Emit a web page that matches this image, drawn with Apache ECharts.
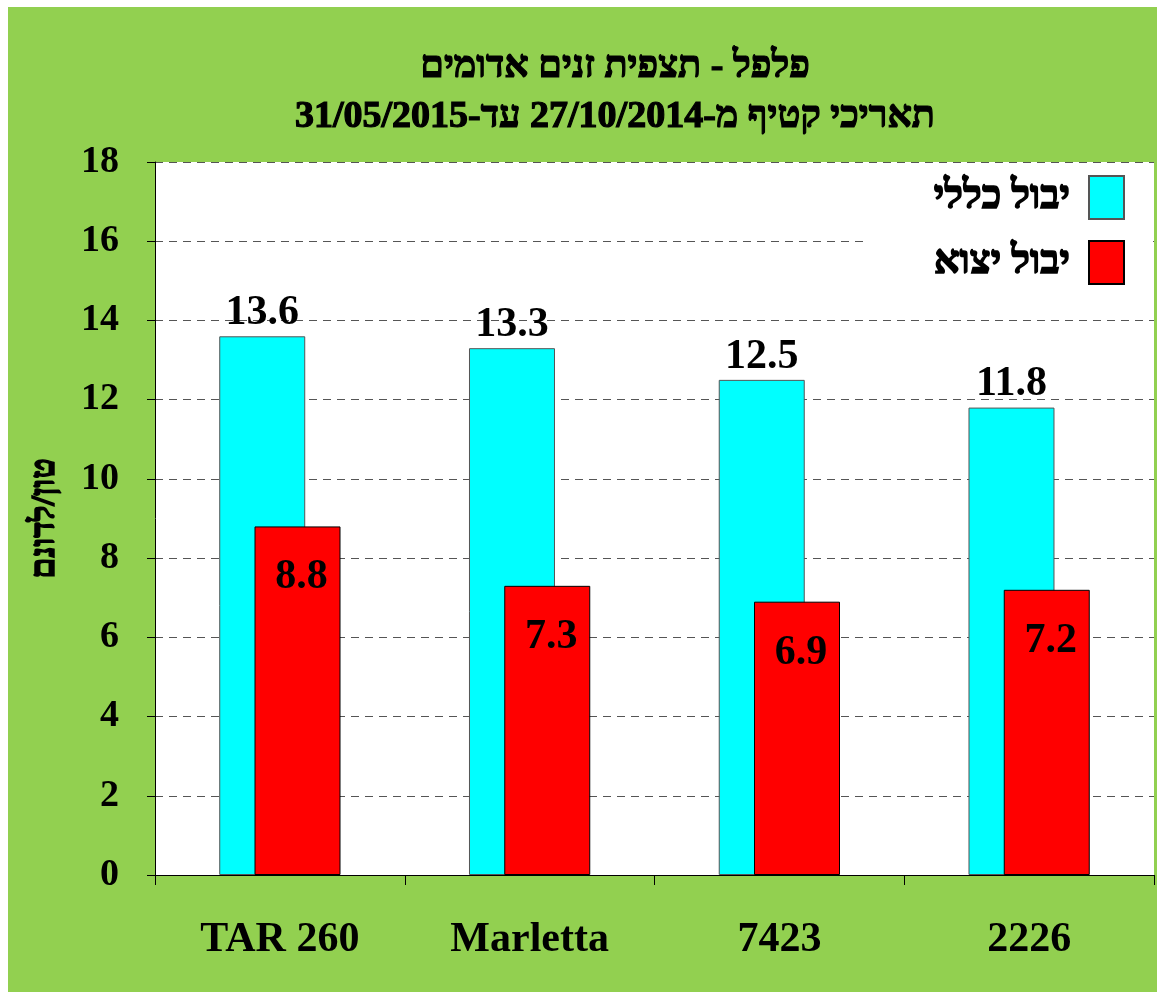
<!DOCTYPE html>
<html>
<head>
<meta charset="utf-8">
<script src="https://cdn.jsdelivr.net/npm/echarts@6/dist/echarts.min.js"></script>
<style>
  html, body { margin: 0; padding: 0; background: #fff; }
  #main { position: absolute; left: 8px; top: 7px; width: 1149px; height: 985px; }
</style>
</head>
<body>
<div id="main"></div>
<script>
var categories = ['TAR 260', 'Marletta', '7423', '2226'];
var totalYield = [13.6, 13.3, 12.5, 11.8];
var exportYield = [8.8, 7.3, 6.9, 7.2];
var seriesNames = ['יבול כללי', 'יבול יצוא'];
var titleLines = ['פלפל - תצפית זנים אדומים', 'תאריכי קטיף מ-27/10/2014 עד-31/05/2015'];
var yName = 'טון/לדונם';

var font = 'Liberation Serif, Times New Roman, serif';
var chart = echarts.init(document.getElementById('main'));

// hebrew glyphs have no bold face here, so thicken them with a stroke
var option = {
  backgroundColor: '#92D050',
  animation: false,
  title: {
    text: titleLines.join('\n'),
    left: 602,
    textAlign: 'center',
    top: 30,
    textStyle: {
      fontFamily: font,
      fontWeight: 'bold',
      fontSize: 38,
      lineHeight: 50,
      color: '#000',
      textBorderColor: '#000',
      textBorderWidth: 1.2
    }
  },
  legend: {
    orient: 'vertical',
    right: 4,
    top: 160,
    align: 'right',
    icon: 'rect',
    itemWidth: 35,
    itemHeight: 43,
    itemGap: 20,
    backgroundColor: '#fff',
    padding: [8, 28, 8, 70],
    textStyle: {
      fontFamily: font,
      fontWeight: 'bold',
      fontSize: 40,
      color: '#000',
      textBorderColor: '#000',
      textBorderWidth: 1.5,
      padding: [0, 14, 0, 0]
    },
    data: seriesNames
  },
  grid: {
    left: 147,
    right: 3,
    top: 155,
    bottom: 117,
    show: true,
    backgroundColor: '#fff',
    borderWidth: 0
  },
  xAxis: {
    type: 'category',
    data: categories,
    axisLine: { lineStyle: { color: '#000', width: 1 } },
    axisTick: { show: true, length: 10, lineStyle: { color: '#000' } },
    axisLabel: {
      margin: 44,
      fontFamily: font,
      fontWeight: 'bold',
      fontSize: 42,
      color: '#000'
    }
  },
  yAxis: {
    type: 'value',
    min: 0,
    max: 18,
    interval: 2,
    name: yName,
    nameLocation: 'middle',
    nameRotate: 90,
    nameGap: 93,
    nameTextStyle: {
      fontFamily: font,
      fontWeight: 'bold',
      fontSize: 34,
      color: '#000',
      textBorderColor: '#000',
      textBorderWidth: 1.5
    },
    axisLine: { show: true, lineStyle: { color: '#000', width: 1 } },
    axisTick: { show: true, length: 8, lineStyle: { color: '#000' } },
    axisLabel: {
      margin: 36,
      fontFamily: font,
      fontWeight: 'bold',
      fontSize: 38,
      color: '#000'
    },
    splitLine: {
      lineStyle: { color: '#555', type: [8, 6], width: 1 }
    }
  },
  series: [
    {
      name: seriesNames[0],
      type: 'bar',
      data: totalYield,
      barWidth: 86,
      barGap: '-59%',
      itemStyle: { color: '#00FFFF', borderColor: '#555', borderWidth: 1 },
      label: {
        show: true,
        position: 'top',
        distance: 2,
        fontFamily: font,
        fontWeight: 'bold',
        fontSize: 42,
        color: '#000'
      }
    },
    {
      name: seriesNames[1],
      type: 'bar',
      data: exportYield,
      barWidth: 86,
      itemStyle: { color: '#FF0000', borderColor: '#000', borderWidth: 1 },
      label: {
        show: true,
        position: 'insideTop',
        distance: 30,
        offset: [4, 0],
        fontFamily: font,
        fontWeight: 'bold',
        fontSize: 42,
        color: '#000'
      }
    }
  ]
};

chart.setOption(option);
</script>
</body>
</html>
